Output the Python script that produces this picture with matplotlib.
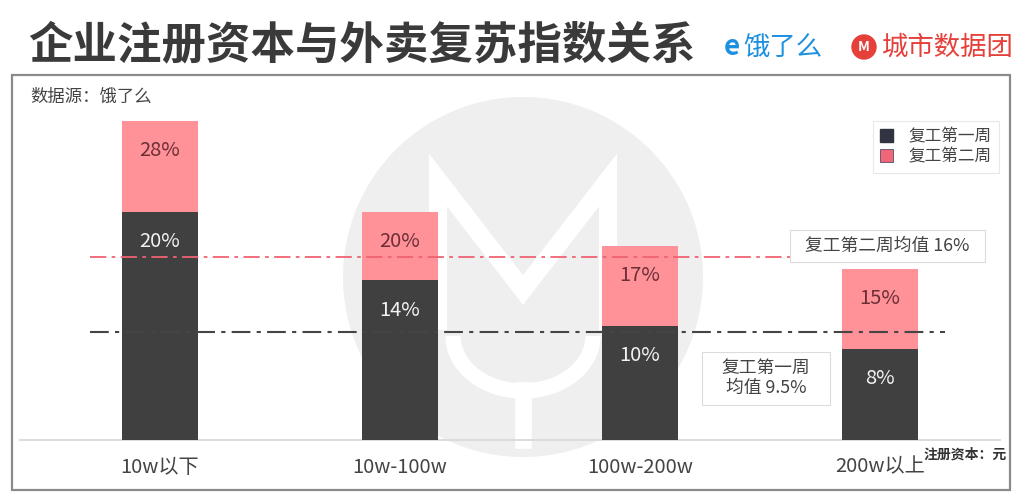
import matplotlib
matplotlib.use("Agg")
import matplotlib.pyplot as plt
from matplotlib.patches import Rectangle, Circle, Arc, Patch

plt.rcParams['font.family'] = ['Noto Sans CJK SC', 'DejaVu Sans']

# ---- data ----
categories = ["10w以下", "10w-100w", "100w-200w", "200w以上"]
week1 = [20, 14, 10, 8]
week2 = [28, 20, 17, 15]
week1_avg = 9.5
week2_avg = 16
series_names = ["复工第一周", "复工第二周"]
title = "企业注册资本与外卖复苏指数关系"
source = "数据源：饿了么"
unit_note = "注册资本：元"

DARK = "#404040"
PINK = "#ff9198"
PINK_LINE = "#f06272"
TXT = "#444444"

W, H = 1024, 500
fig = plt.figure(figsize=(W / 100, H / 100), dpi=100)

# background / decoration layer in pixel coordinates
bg = fig.add_axes([0, 0, 1, 1], zorder=0)
bg.set_xlim(0, W)
bg.set_ylim(H, 0)
bg.axis('off')

# watermark
bg.add_patch(Circle((523, 277), 180, color="#efefef", lw=0))
bg.plot([438, 438, 523, 608, 608], [330, 180, 290, 180, 330], color="white",
        lw=13, solid_joinstyle='miter', solid_capstyle='butt')
bg.add_patch(Arc((523, 336), 140, 110, theta1=0, theta2=180, color="white", lw=11))
bg.plot([523, 523], [390, 440], color="white", lw=12)

# frame
bg.add_patch(Rectangle((12, 75), 998, 415, fill=False, edgecolor="#8a8a8a", lw=1.6))

# title & logos
bg.text(28, 45, title, fontsize=32, fontweight='bold', color="#3a3a3a",
        va='center', ha='left')
bg.text(724, 47, "e", fontsize=20, fontweight='bold', color="#1e90e0", va='center', ha='left')
bg.text(743, 47, "饿了么", fontsize=19, color="#1e90e0", va='center', ha='left')
bg.add_patch(Circle((864, 47), 12, color="#e5403a"))
bg.text(864, 47, "M", fontsize=10, fontweight='bold', color="white", va='center', ha='center')
bg.text(882, 47, "城市数据团", fontsize=19, color="#e5403a", va='center', ha='left')

bg.text(30, 97, source, fontsize=12.5, color=TXT, va='center', ha='left')
bg.text(1007, 455, unit_note, fontsize=10, fontweight='bold', color="#333333",
        va='center', ha='right')

# main chart
ax = fig.add_axes([20 / W, 60 / H, 980 / W, 340 / H], zorder=2)
ax.set_facecolor('none')
x = list(range(len(categories)))
bw = 0.317
ax.bar(x, week2, width=bw, color=PINK, zorder=2)
ax.bar(x, week1, width=bw, color=DARK, zorder=3)

for xi, v in zip(x, week2):
    ax.annotate(f"{v}%", (xi, v), xytext=(0, -21.5), textcoords='offset points',
                ha='center', va='center', fontsize=14.5, color="#6b2f35", zorder=5)
for xi, v in zip(x, week1):
    ax.annotate(f"{v}%", (xi, v), xytext=(0, -21.5), textcoords='offset points',
                ha='center', va='center', fontsize=14.5, color="#f2f2f2", zorder=5)

ax.axhline(week2_avg, xmin=0.071, xmax=0.944, color=PINK_LINE, lw=1.3,
           dashes=(9, 3, 2, 3), zorder=4)
ax.axhline(week1_avg, xmin=0.071, xmax=0.944, color="#454545", lw=1.5,
           dashes=(9, 3, 2, 3), zorder=4)

ax.set_xlim(-0.583, 3.5)
ax.set_ylim(0, 29.8)
ax.set_xticks(x)
ax.set_xticklabels(categories, fontsize=14.5, color=TXT)
ax.tick_params(axis='x', length=0, pad=12)
ax.set_yticks([])
for s in ['top', 'right', 'left']:
    ax.spines[s].set_visible(False)
ax.spines['bottom'].set_color("#d9d9d9")
ax.spines['bottom'].set_linewidth(1.3)

# average annotations (above bars)
top = fig.add_axes([0, 0, 1, 1], zorder=3)
top.set_xlim(0, W)
top.set_ylim(H, 0)
top.axis('off')
top.add_patch(Rectangle((790, 230), 195, 32, facecolor='white', edgecolor='#dcdcdc', lw=0.8))
top.text(887, 246, f"复工第二周均值 {week2_avg}%", fontsize=12.8, color=TXT,
         ha='center', va='center')
top.add_patch(Rectangle((702, 352), 128, 53, facecolor='white', edgecolor='#dcdcdc', lw=0.8))
top.text(766, 378, f"复工第一周\n均值 {week1_avg}%", fontsize=12.8, color=TXT,
         ha='center', va='center', linespacing=1.2)

handles = [Patch(facecolor="#2f3440", edgecolor="#2f3440"),
           Patch(facecolor="#f06878", edgecolor="#5a4a6a", lw=0.6)]
leg = fig.legend(handles, series_names, loc='upper right',
                 bbox_to_anchor=(999 / W, 1 - 121 / H), fontsize=12,
                 frameon=True, fancybox=False, edgecolor="#e3e3e3",
                 handlelength=0.8, handleheight=0.8, handletextpad=0.9,
                 borderpad=0.45, labelspacing=0.15, labelcolor=TXT,
                 borderaxespad=0)
leg.get_frame().set_linewidth(0.8)
leg.set_zorder(10)

fig.savefig("out.png", dpi=100)
